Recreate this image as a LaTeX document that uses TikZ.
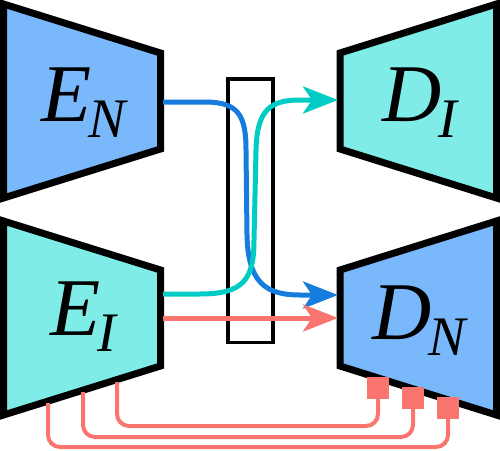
\documentclass[tikz,border=0pt]{standalone}
\usepackage{fontspec}
\setmainfont{Liberation Serif}
\usetikzlibrary{arrows.meta}
\definecolor{fillblue}{RGB}{122,184,252}
\definecolor{fillcyan}{RGB}{128,236,232}
\definecolor{arrblue}{RGB}{22,124,222}
\definecolor{arrcyan}{RGB}{0,204,196}
\definecolor{arrred}{RGB}{250,117,112}
\newcommand{\sublbl}[2]{\itshape #1\kern-0.4pt\raisebox{-2pt}{\fontsize{6.8}{7}\selectfont #2}}
\tikzset{
  trap/.style={draw=black, line width=7pt, line join=miter},
  lbl/.style={inner sep=0pt, scale=8.2},
  conn/.style={line width=5pt, -{Stealth[length=35pt,width=27pt,inset=9pt]}},
  skip/.style={draw=arrred, line width=4pt, rounded corners=12pt},
  port/.style={fill=arrred, minimum size=22pt, inner sep=0pt, draw=none},
  bar/.style={draw=black, line width=3.5pt}
}
\begin{document}
\begin{tikzpicture}[x=1pt,y=-1pt]
\useasboundingbox (0,0) rectangle (500,450);
% trapezoids
\fill[fillblue] (3.5,4) -- (160.5,53) -- (160.5,149) -- (3.5,198) -- cycle;
\draw[trap] (3.5,4) -- (160.5,53) -- (160.5,149) -- (3.5,198) -- cycle;
\fill[fillcyan] (3.5,221) -- (160.5,270) -- (160.5,366) -- (3.5,415) -- cycle;
\draw[trap] (3.5,221) -- (160.5,270) -- (160.5,366) -- (3.5,415) -- cycle;
\fill[fillcyan] (340,53) -- (496.5,4) -- (496.5,198) -- (340,149) -- cycle;
\draw[trap] (340,53) -- (496.5,4) -- (496.5,198) -- (340,149) -- cycle;
\fill[fillblue] (340,270) -- (496.5,221) -- (496.5,415) -- (340,366) -- cycle;
\draw[trap] (340,270) -- (496.5,221) -- (496.5,415) -- (340,366) -- cycle;
% labels
\node[lbl, anchor=base west] (EN) at (40,121) {\sublbl{E}{N}};
\node[lbl, anchor=base west] (EI) at (49,335) {\sublbl{E}{I}};
\node[lbl, anchor=base west] (DI) at (381,121) {\sublbl{D}{I}};
\node[lbl, anchor=base west] (DN) at (371,339) {\sublbl{D}{N}};
% central bar
\node[bar, minimum width=45pt, minimum height=263.5pt, inner sep=0pt] (Z) at (250.5,210.75) {};
% connector endpoints
\coordinate (ENout) at (163,102);
\coordinate (EIout1) at (163,294);
\coordinate (EIout2) at (163,318);
\coordinate (DIin) at (338,100);
\coordinate (DNin1) at (338,295);
\coordinate (DNin2) at (338,318);
% arrows
\draw[conn, arrblue] (ENout) -- (205,102) .. controls (238,102) and (246,115) .. (246,150) -- (247,235) .. controls (248,282) and (265,295) .. (300,295) -- (DNin1);
\draw[conn, arrcyan] (EIout1) -- (200,294) .. controls (243,294) and (254,280) .. (254,240) -- (256,150) .. controls (257,110) and (270,100) .. (300,100) -- (DIin);
\draw[conn, arrred] (EIout2) -- (DNin2);
% skip connections
\coordinate (s1) at (117,382);
\coordinate (s2) at (83,392);
\coordinate (s3) at (48,403);
\node[port] (p1) at (378,388) {};
\node[port] (p2) at (413,398) {};
\node[port] (p3) at (448,408) {};
\draw[skip] (s1) -- (117,426) -- (378,426) -- (p1.center);
\draw[skip] (s2) -- (83,437) -- (413,437) -- (p2.center);
\draw[skip] (s3) -- (48,447) -- (448,447) -- (p3.center);
\end{tikzpicture}
\end{document}
